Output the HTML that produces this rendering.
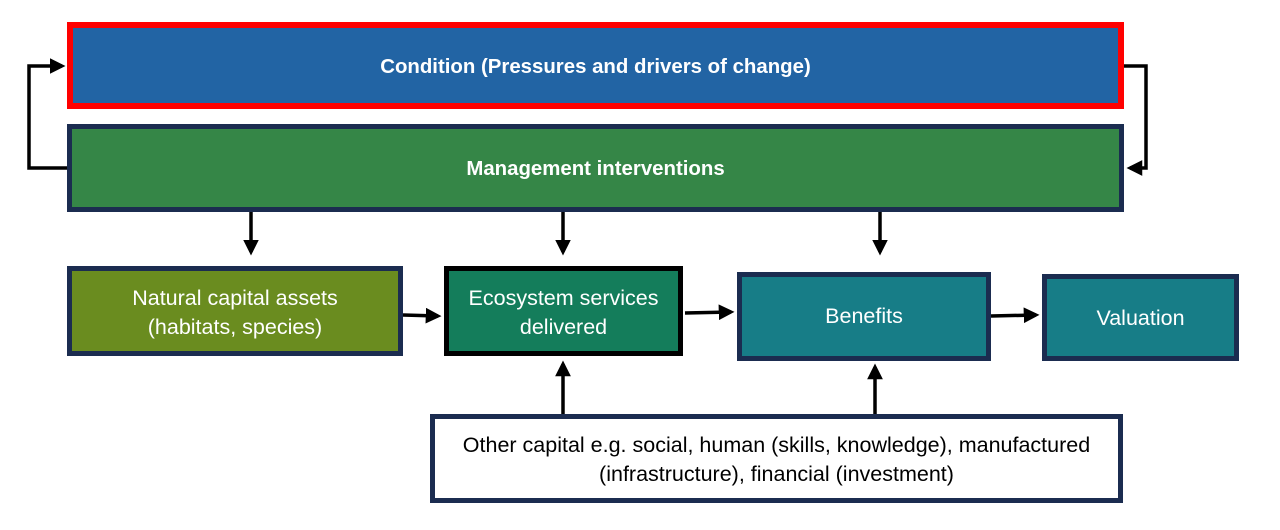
<!DOCTYPE html>
<html><head><style>
body{margin:0;width:1280px;height:530px;background:#fff;position:relative;font-family:"Liberation Sans",sans-serif;overflow:hidden}
.b{position:absolute;box-sizing:border-box;display:flex;align-items:center;justify-content:center;text-align:center;color:#fff;font-size:21.5px;line-height:29px}
svg{position:absolute;left:0;top:0}
</style></head><body>
<div class="b" style="left:67px;top:22px;width:1057px;height:87px;background:#2264a4;border:6px solid #f00;font-weight:bold;font-size:20.4px;padding-top:3px">Condition (Pressures and drivers of change)</div>
<div class="b" style="left:67px;top:124px;width:1057px;height:88px;background:#358647;border:5px solid #1b2c50;font-weight:bold;font-size:20.4px;padding-top:2px">Management interventions</div>
<div class="b" style="left:67px;top:266px;width:336px;height:90px;background:#6a8c1f;border:5px solid #1b2c50;padding-top:3px">Natural capital assets<br>(habitats, species)</div>
<div class="b" style="left:444px;top:266px;width:239px;height:90px;background:#147d5b;border:5px solid #000;padding-top:3px">Ecosystem services<br>delivered</div>
<div class="b" style="left:737px;top:272px;width:254px;height:89px;background:#177d87;border:5px solid #1b2c50">Benefits</div>
<div class="b" style="left:1042px;top:274px;width:197px;height:87px;background:#177d87;border:5px solid #1b2c50;padding-top:2px">Valuation</div>
<div class="b" style="left:430px;top:414px;width:693px;height:89px;background:#fff;border:5px solid #1b2c50;color:#000;padding-top:3px">Other capital e.g. social, human (skills, knowledge), manufactured<br>(infrastructure), financial (investment)</div>
<svg width="1280" height="530">
<defs><marker id="a" markerWidth="4.5" markerHeight="4.5" refX="3.5" refY="2.25" orient="auto" markerUnits="strokeWidth"><path d="M0,0L4.5,2.25L0,4.5z" fill="#000"/></marker></defs>
<g stroke="#000" stroke-width="3.5" fill="none" marker-end="url(#a)">
<path d="M67,168H29V66H62"/>
<path d="M1124,66H1146V168H1130"/>
<path d="M251,212V252"/>
<path d="M563,212V252"/>
<path d="M880,212V252"/>
<path d="M403,315L438,316"/>
<path d="M685,313L731,312"/>
<path d="M991,316L1036,315"/>
<path d="M563,414V364"/>
<path d="M875,414V367"/>
</g></svg>
</body></html>
